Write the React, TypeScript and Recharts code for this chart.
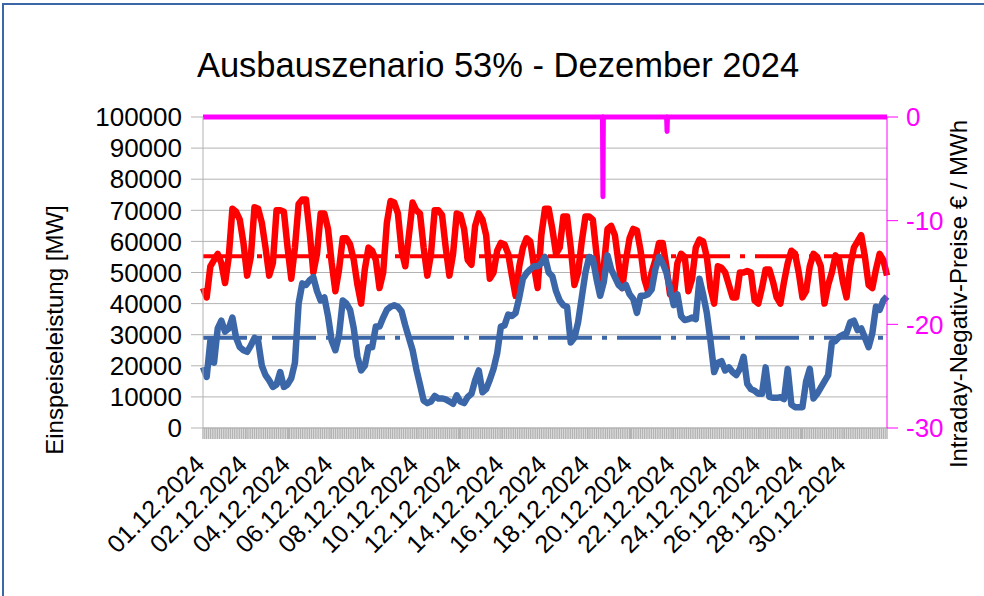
import React from 'react'
import { LineChart, Line, XAxis, YAxis, CartesianGrid, ReferenceLine } from 'recharts'

// one value every 4 hours, starting 01.12.2024 00:00 (x axis counts quarter hours)
const STEP_QH = 16
const LABEL_EVERY_QH = 186
const END_QH = 2976

const lastMW = [
  45000, 42000, 52000, 54000, 56000, 53000, 46600, 55000, 70500, 69500,
  67000, 59500, 49000, 55000, 71000, 70500, 66000, 58000, 49000, 53000,
  70000, 70000, 69500, 58000, 48000, 58000, 72000, 73500, 73500, 63000,
  50000, 56000, 69000, 69000, 64000, 53000, 44000, 51000, 61000, 61000,
  59000, 54000, 46000, 40000, 51000, 58000, 57000, 54000, 45000, 50000,
  66000, 73000, 72500, 69000, 57000, 52000, 62000, 72500, 70000, 69000,
  58000, 49000, 56000, 70000, 70000, 68500, 58000, 49000, 56000, 69000,
  68500, 64000, 54000, 52500, 65000, 69000, 67000, 62000, 48000, 50000,
  57000, 59500, 59000, 56000, 49000, 42500, 52000, 58000, 61000, 60000,
  52000, 45000, 62000, 70500, 70500, 64000, 56000, 58000, 68000, 68000,
  58000, 46000, 50000, 60000, 68000, 68000, 67000, 56000, 44000, 52000,
  64000, 65000, 62000, 53000, 45000, 54000, 61000, 64000, 63500, 57000,
  48000, 44000, 50000, 54000, 59500, 59500, 52000, 43000, 42000, 53000,
  56000, 55000, 44000, 48000, 58000, 60600, 60000, 55000, 45000, 40000,
  52000, 51500, 50000, 46000, 42000, 42000, 50000, 50000, 50500, 50000,
  41000, 40000, 45000, 51000, 51000, 47000, 42000, 40000, 47000, 53000,
  57000, 56000, 50000, 42000, 44000, 52000, 56000, 55000, 52000, 40000,
  46000, 50000, 55500, 54000, 47000, 42000, 52000, 58000, 60000, 62000,
  55000, 46000, 45000, 51000, 56000, 54000, 49000,
]

const eeMW = [
  19600, 16400, 28000, 21000, 32000, 34500, 31000, 32000, 35500, 29000,
  26000, 25000, 24500, 26500, 29000, 28000, 20000, 17000, 15300, 13200,
  14000, 18000, 13200, 14000, 16000, 21000, 40000, 46500, 46000, 47500,
  48500, 44000, 41000, 42000, 36000, 28000, 25000, 30000, 41000, 40000,
  38000, 32000, 23000, 18500, 20000, 26000, 26000, 32600, 32600, 35500,
  38000, 39000, 39500, 39000, 37500, 33000, 29000, 25000, 19000, 14000,
  8800, 8000, 8500, 10300, 9500, 9500, 9200, 8500, 7800, 10500,
  8500, 8000, 10000, 11000, 15300, 18500, 11500, 12500, 15500, 19000,
  24000, 32600, 33000, 36500, 36000, 37000, 42000, 48000, 49800, 51000,
  52000, 52000, 53000, 55000, 50000, 48800, 44000, 41000, 39500, 39000,
  27500, 29000, 34000, 42000, 50000, 55000, 54500, 48000, 42500, 47000,
  55500, 51000, 48500, 46000, 45000, 46000, 43000, 41500, 37000, 42500,
  42500, 43000, 44500, 51000, 55000, 53000, 50000, 45000, 39500, 43000,
  36000, 34700, 35000, 35500, 35000, 48000, 43000, 37000, 28000, 18000,
  21000, 21500, 18500, 19500, 18000, 17000, 19000, 22900, 14200, 12500,
  12000, 11000, 11000, 19500, 10000, 9700, 9700, 9900, 9300, 19000,
  7500, 6700, 6700, 6700, 15000, 19000, 9500, 11000, 13000, 15000,
  17000, 27500, 28000, 29300, 30000, 30500, 34000, 34500, 31500, 32000,
  29000, 26000, 30400, 39000, 38000, 41000, 42300,
]

const avgLastMW = 55200
const avgEeMW = 29000

// negative intraday prices: quarter hour index and price in EUR/MWh
const priceQh = [0, 1738, 1740, 1742, 2017, 2019, 2021, 2976]
const priceEur = [0, 0, -7.7, 0, 0, -1.4, 0, 0]

const dateLabels = [
  '01.12.2024', '02.12.2024', '04.12.2024', '06.12.2024', '08.12.2024', '10.12.2024',
  '12.12.2024', '14.12.2024', '16.12.2024', '18.12.2024', '20.12.2024', '22.12.2024',
  '24.12.2024', '26.12.2024', '28.12.2024', '30.12.2024',
]

const mwTicks = [0, 10000, 20000, 30000, 40000, 50000, 60000, 70000, 80000, 90000, 100000]
const priceTicks = [-30, -20, -10, 0]

const series = lastMW.map((v, i) => ({ q: i * STEP_QH, last: v, ee: eeMW[i] }))
const prices = priceQh.map((q, i) => ({ q, price: priceEur[i] }))

const bandTicks: number[] = []
for (let q = 0; q <= END_QH; q += 8) bandTicks.push(q)
const labelTicks = dateLabels.map((_, i) => i * LABEL_EVERY_QH)
const xTicks = Array.from(new Set([...bandTicks, ...labelTicks])).sort((a, b) => a - b)

const FONT = "'Liberation Sans', Arial, sans-serif"
const GREY = '#b3b3b3'
const RED = '#ff0000'
const BLUE = '#3b67a9'
const MAGENTA = '#ff00ff'

const DateTick = (props: any) => {
  const { x, y, payload } = props
  const k = payload.value / LABEL_EVERY_QH
  if (!Number.isInteger(k) || !dateLabels[k]) return <g />
  const tx = x + 3
  const ty = y + 27
  return (
    <text
      x={tx}
      y={ty}
      transform={`rotate(-45 ${tx} ${ty})`}
      textAnchor="end"
      fontSize={25}
      fontFamily={FONT}
      fill="#000"
    >
      {dateLabels[k]}
    </text>
  )
}

export default function App() {
  return (
    <div style={{ position: 'absolute', left: 0, top: 0, width: 984, height: 596, background: '#fff', overflow: 'hidden' }}>
      <div
        style={{
          position: 'absolute',
          left: 2,
          top: 3,
          width: 982,
          height: 593,
          borderTop: `2px solid ${BLUE}`,
          borderLeft: `2px solid ${BLUE}`,
          boxSizing: 'border-box',
        }}
      />
      <div style={{ position: 'absolute', left: 0, top: 0 }}>
        <LineChart
          width={984}
          height={596}
          data={series}
          margin={{ top: 117, right: 0, bottom: 0, left: 0 }}
          style={{ fontFamily: FONT }}
        >
          <CartesianGrid yAxisId="mw" vertical={false} stroke={GREY} strokeWidth={1} />
          <XAxis
            dataKey="q"
            type="number"
            domain={[0, END_QH]}
            ticks={xTicks}
            interval={0}
            tickSize={11}
            tickMargin={0}
            height={168}
            axisLine={{ stroke: GREY }}
            tickLine={{ stroke: GREY, strokeWidth: 1.4 }}
            tick={<DateTick />}
          />
          <YAxis
            yAxisId="mw"
            domain={[0, 100000]}
            ticks={mwTicks}
            interval={0}
            width={203}
            tickSize={12}
            tickMargin={9}
            axisLine={{ stroke: GREY }}
            tickLine={{ stroke: GREY }}
            tick={{ fill: '#000', fontSize: 26, fontFamily: FONT }}
          />
          <YAxis
            yAxisId="price"
            orientation="right"
            domain={[-30, 0]}
            ticks={priceTicks}
            interval={0}
            width={97}
            tickSize={11}
            tickMargin={8}
            axisLine={{ stroke: MAGENTA }}
            tickLine={{ stroke: MAGENTA }}
            tick={{ fill: MAGENTA, fontSize: 26, fontFamily: FONT }}
          />
          <ReferenceLine yAxisId="mw" y={avgLastMW} stroke={RED} strokeWidth={4} strokeDasharray="44 10 5 10" />
          <ReferenceLine yAxisId="mw" y={avgEeMW} stroke={BLUE} strokeWidth={4} strokeDasharray="44 10 5 10" />
          <Line
            yAxisId="mw"
            dataKey="last"
            type="linear"
            stroke={RED}
            strokeWidth={6.5}
            strokeLinejoin="round"
            dot={false}
            isAnimationActive={false}
          />
          <Line
            yAxisId="mw"
            dataKey="ee"
            type="linear"
            stroke={BLUE}
            strokeWidth={6.5}
            strokeLinejoin="round"
            dot={false}
            isAnimationActive={false}
          />
          <Line
            yAxisId="price"
            data={prices}
            dataKey="price"
            type="linear"
            stroke={MAGENTA}
            strokeWidth={5}
            strokeLinejoin="round"
            dot={false}
            isAnimationActive={false}
          />
        </LineChart>
      </div>
      <svg width={984} height={596} style={{ position: 'absolute', left: 0, top: 0, pointerEvents: 'none' }}>
        <text x={498} y={77} textAnchor="middle" fontSize={34.5} fontFamily={FONT} fill="#000">
          Ausbauszenario 53% - Dezember 2024
        </text>
        <text x={63} y={330} transform="rotate(-90 63 330)" textAnchor="middle" fontSize={24} fontFamily={FONT} fill="#000">
          Einspeiseleistung [MW]
        </text>
        <text x={967} y={294} transform="rotate(-90 967 294)" textAnchor="middle" fontSize={24} fontFamily={FONT} fill="#000">
          Intraday-Negativ-Preise € / MWh
        </text>
      </svg>
    </div>
  )
}
